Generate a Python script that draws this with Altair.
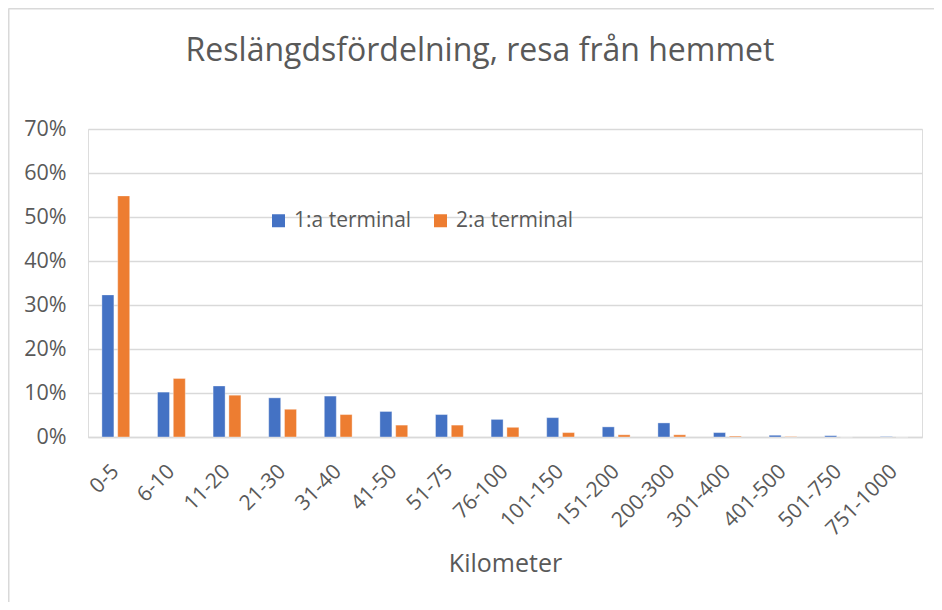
import altair as alt
import pandas as pd

categories = ["0-5", "6-10", "11-20", "21-30", "31-40", "41-50", "51-75", "76-100",
              "101-150", "151-200", "200-300", "301-400", "401-500", "501-750", "751-1000"]
series_names = ["1:a terminal", "2:a terminal"]
terminal1 = [0.323, 0.102, 0.116, 0.089, 0.093, 0.058, 0.051, 0.040,
             0.044, 0.023, 0.032, 0.010, 0.004, 0.003, 0.001]
terminal2 = [0.548, 0.133, 0.095, 0.063, 0.051, 0.027, 0.027, 0.022,
             0.010, 0.005, 0.005, 0.002, 0.001, 0.000, 0.000]
y_ticks = [0, 0.1, 0.2, 0.3, 0.4, 0.5, 0.6, 0.7]

rows = []
for i, c in enumerate(categories):
    rows.append({"Kilometer": c, "Serie": series_names[0], "Andel": terminal1[i]})
    rows.append({"Kilometer": c, "Serie": series_names[1], "Andel": terminal2[i]})
df = pd.DataFrame(rows)

FONT = "Open Sans"
GREY = "#595959"
GRID = "#D9D9D9"

bars = alt.Chart(df).mark_bar(stroke="white", strokeWidth=0.6, strokeOpacity=0.6).encode(
    x=alt.X("Kilometer:N", sort=categories,
            scale=alt.Scale(paddingInner=0.5, paddingOuter=0.25),
            axis=alt.Axis(title="Kilometer", labelAngle=-45, labelAlign="right",
                          labelBaseline="middle", labelPadding=31, ticks=False,
                          domainColor=GRID, domainWidth=1.5, labelColor=GREY,
                          labelFontSize=21, labelFont=FONT, titleFont=FONT,
                          titleFontSize=25, titleFontWeight="normal", titleColor=GREY,
                          titlePadding=12)),
    xOffset=alt.XOffset("Serie:N", sort=series_names,
                        scale=alt.Scale(paddingInner=0.24)),
    y=alt.Y("Andel:Q", scale=alt.Scale(domain=[0, 0.7], nice=False),
            axis=alt.Axis(title=None, format=".0%", values=y_ticks, ticks=False,
                          domain=False, gridColor=GRID, gridWidth=1.3,
                          labelColor=GREY, labelFontSize=21.5, labelFont=FONT,
                          labelPadding=22)),
    color=alt.Color("Serie:N", sort=series_names,
                    scale=alt.Scale(domain=series_names, range=["#4472C4", "#ED7D31"]),
                    legend=alt.Legend(title=None, orient="none", direction="horizontal",
                                      legendX=180, legendY=81, symbolType="square",
                                      symbolSize=169, symbolStrokeWidth=0,
                                      labelFont=FONT, labelFontSize=21, labelColor=GREY,
                                      labelOffset=5, columnPadding=18, padding=0)),
)

frame = alt.Chart(pd.DataFrame({"k": [0]})).mark_rule(color=GRID, strokeWidth=2).encode(
    x=alt.value(-79.5), x2=alt.value(900), y=alt.value(-120.5), y2=alt.value(-120.5)
)
frame_left = alt.Chart(pd.DataFrame({"k": [0]})).mark_rule(color=GRID, strokeWidth=2).encode(
    x=alt.value(-79.5), x2=alt.value(-79.5), y=alt.value(-120.5), y2=alt.value(600)
)

chart = alt.layer(frame, frame_left, bars).properties(
    width=834, height=308,
    autosize=alt.AutoSizeParams(type="none"),
    padding={"left": 80, "top": 121, "right": 12, "bottom": 165},
    title=alt.TitleParams("Reslängdsfördelning, resa från hemmet", font=FONT,
                          fontSize=32, fontWeight="normal", color=GREY,
                          anchor="middle", frame="group", offset=0,
                          baseline="alphabetic", dy=85, dx=-25),
).configure_view(stroke=None).configure(background="white")

chart.save("out.html", embed_options={"renderer": "svg", "actions": False})
